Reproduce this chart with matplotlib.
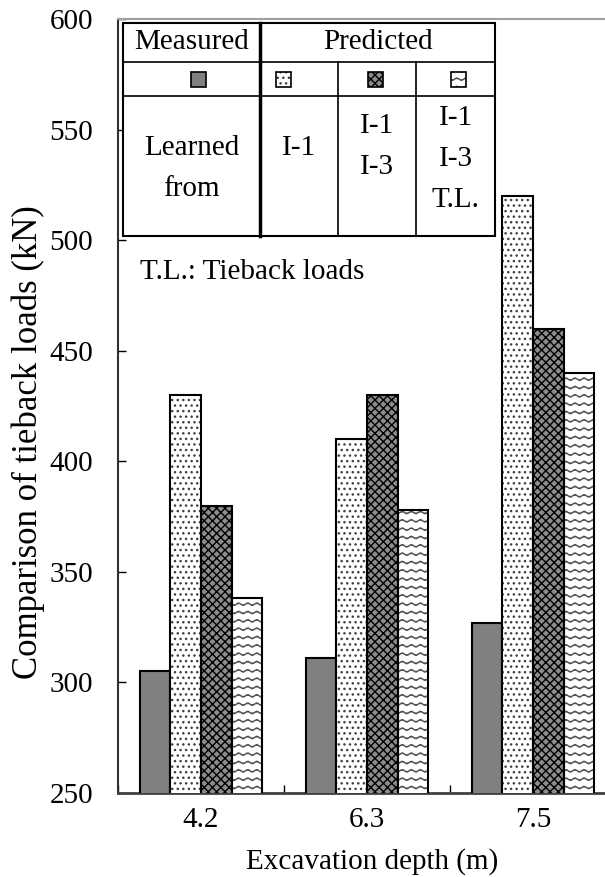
import warnings

import numpy as np
import matplotlib

matplotlib.use("Agg")
import matplotlib.pyplot as plt
import matplotlib.hatch as mhatch
from matplotlib.path import Path
from matplotlib.patches import Rectangle

warnings.filterwarnings("ignore")

# values (kN)
depths = ["4.2", "6.3", "7.5"]
measured = [305, 311, 327]
pred_i1 = [430, 410, 520]
pred_i1_i3 = [380, 430, 460]
pred_i1_i3_tl = [338, 378, 440]

yticks = [250, 300, 350, 400, 450, 500, 550, 600]

FONT = 21
W, H = 605, 877


# wavy-line hatch ("~"), matplotlib has no built-in one
class WavyHatch(mhatch.HatchPatternBase):
    def __init__(self, hatch, density):
        self.num_lines = int(hatch.count("~") * density)
        self.n_pts = 61
        self.num_vertices = self.num_lines * self.n_pts

    def set_vertices_and_codes(self, vertices, codes):
        steps, step = np.linspace(0.0, 1.0, self.num_lines, False, retstep=True)
        steps += step / 2
        xs = np.linspace(0.0, 1.0, self.n_pts)
        wave = 0.15 * step * np.sin(xs * 2 * np.pi * 11)
        for i, y in enumerate(steps):
            a = i * self.n_pts
            vertices[a:a + self.n_pts, 0] = xs
            vertices[a:a + self.n_pts, 1] = y + wave
            codes[a:a + self.n_pts] = Path.LINETO
            codes[a] = Path.MOVETO


mhatch._hatch_types.append(WavyHatch)

plt.rcParams["font.family"] = ["Liberation Serif", "DejaVu Serif"]
plt.rcParams["hatch.linewidth"] = 1.0

# style per predicted series: face, hatch, hatch colour
STYLES = [
    ("white", "...", "#404040"),
    ("#8c8c8c", "xxxx", "black"),
    ("white", "~~", "#505050"),
]
MEAS_FACE = "#808080"

fig = plt.figure(figsize=(W / 100, H / 100), dpi=100)
ax = fig.add_axes([118 / W, 1 - 793 / H, 498 / W, 774 / H])

x = np.arange(1, len(depths) + 1)
bw = 0.184
offs = [-1.5, -0.5, 0.5, 1.5]

ax.bar(x + offs[0] * bw, measured, bw, color=MEAS_FACE,
       edgecolor="black", linewidth=1.5, zorder=3)
for off, vals, (face, hatch, hcol) in zip(offs[1:], [pred_i1, pred_i1_i3, pred_i1_i3_tl], STYLES):
    ax.bar(x + off * bw, vals, bw, color=face, hatch=hatch, edgecolor=hcol,
           linewidth=0, zorder=3)
    ax.bar(x + off * bw, vals, bw, fill=False, edgecolor="black",
           linewidth=1.5, zorder=4)

ax.set_ylim(250, 600)
ax.set_xlim(0.5, 3.5)
ax.set_yticks(yticks)
ax.tick_params(axis="y", direction="in", length=6, width=1, labelsize=FONT,
               pad=18, colors="black")
ax.set_xticks(x, depths)
ax.set_xticks(np.arange(0.5, len(depths) + 1), minor=True)
ax.tick_params(axis="x", which="major", length=0, labelsize=FONT, pad=10)
ax.tick_params(axis="x", which="minor", direction="in", length=6, width=1)

ax.spines["right"].set_visible(False)
ax.spines["top"].set_color("#a0a0a0")
ax.spines["top"].set_linewidth(1.5)
ax.spines["left"].set_color("#303030")
ax.spines["left"].set_linewidth(1.5)
ax.spines["bottom"].set_color("#404040")
ax.spines["bottom"].set_linewidth(2)

ax.set_ylabel("Comparison of tieback loads (kN)", fontsize=25, va="center")
ax.yaxis.set_label_coords((28 - 118) / 498, (793 - 442) / 774)
ax.set_xlabel("Excavation depth (m)", fontsize=FONT, va="center")
ax.xaxis.set_label_coords((372 - 118) / 498, (793 - 862) / 774)

# overlay in pixel coordinates for the legend table
tax = fig.add_axes([0, 0, 1, 1])
tax.set_xlim(0, W)
tax.set_ylim(H, 0)
tax.axis("off")

L, C1, C2, C3, R = 123, 260, 338, 416, 495
T, R1, R2, B = 23, 62, 96, 236
tax.add_patch(Rectangle((L, T), R - L, B - T, facecolor="white",
                        edgecolor="black", linewidth=1.5, zorder=2))
tax.plot([C1, C1], [T, B], color="black", lw=2.5, zorder=3)
for cx in (C2, C3):
    tax.plot([cx, cx], [R1, B], color="black", lw=1.2, zorder=3)
for ry in (R1, R2):
    tax.plot([L, R], [ry, ry], color="black", lw=1.2, zorder=3)

tax.text((L + C1) / 2, 42, "Measured", fontsize=FONT, ha="center", va="center", zorder=4)
tax.text((C1 + R) / 2, 42, "Predicted", fontsize=FONT, ha="center", va="center", zorder=4)

# legend swatches
sw = 15
swatch_x = [198, 283, 375, 458]
tax.add_patch(Rectangle((swatch_x[0] - sw / 2, 79 - sw / 2), sw, sw, facecolor=MEAS_FACE,
                        edgecolor="black", linewidth=1.2, zorder=4))
for sx, (face, hatch, hcol) in zip(swatch_x[1:], STYLES):
    tax.add_patch(Rectangle((sx - sw / 2, 79 - sw / 2), sw, sw, facecolor=face,
                            hatch=hatch, edgecolor=hcol, linewidth=0, zorder=4))
    tax.add_patch(Rectangle((sx - sw / 2, 79 - sw / 2), sw, sw, fill=False,
                            edgecolor="black", linewidth=1.2, zorder=5))

# "learned from" row, one line at a time (41 px line step)
cells = [
    ((L + C1) / 2, 148, ["Learned", "from"]),
    ((C1 + C2) / 2, 148, ["I-1"]),
    ((C2 + C3) / 2, 126, ["I-1", "I-3"]),
    ((C3 + R) / 2, 118, ["I-1", "I-3", "T.L."]),
]
for cx, y0, lines in cells:
    for i, s in enumerate(lines):
        tax.text(cx, y0 + 41 * i, s, fontsize=FONT, ha="center", va="center", zorder=4)

tax.text(140, 272, "T.L.: Tieback loads", fontsize=FONT, ha="left", va="center")

fig.savefig("out.png", dpi=100, facecolor="white")
